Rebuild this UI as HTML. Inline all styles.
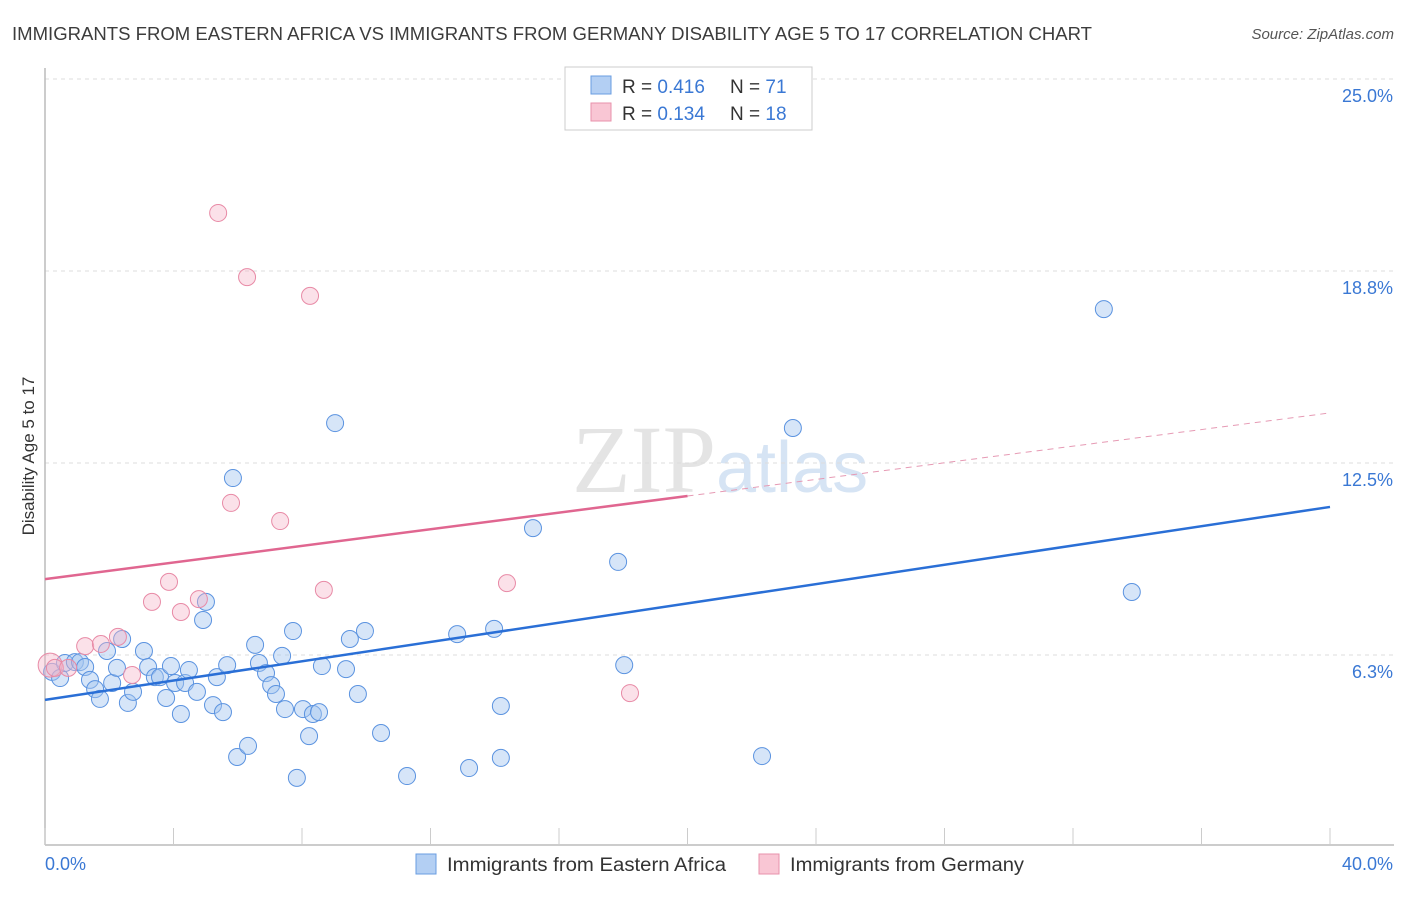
<!DOCTYPE html>
<html><head><meta charset="utf-8"><style>
body{margin:0;background:#fff;font-family:"Liberation Sans",sans-serif;}
</style></head><body>
<svg id="chart" width="1406" height="892" xmlns="http://www.w3.org/2000/svg" font-family="Liberation Sans, sans-serif">
<text x="12" y="40" font-size="18" fill="#3c3c3c" textLength="1080" lengthAdjust="spacingAndGlyphs">IMMIGRANTS FROM EASTERN AFRICA VS IMMIGRANTS FROM GERMANY DISABILITY AGE 5 TO 17 CORRELATION CHART</text>
<text x="1394" y="39" font-size="15" fill="#555" text-anchor="end" font-style="italic">Source: ZipAtlas.com</text>
<text x="716" y="492" font-size="96" fill="#e4e4e4" text-anchor="end" font-family="Liberation Serif, serif">ZIP</text>
<text x="716" y="492" font-size="72" fill="#d6e4f4">atlas</text>
<g id="grid"></g>
<g id="axes"></g>
<g id="marks"></g>
<text transform="translate(34,456) rotate(-90)" font-size="17" fill="#333" text-anchor="middle">Disability Age 5 to 17</text>
<g>
<rect x="565" y="67" width="247" height="63" fill="#fff" stroke="#ccc"/>
<rect x="591" y="76" width="20" height="18" fill="#b3cff3" stroke="#6a9de0"/>
<text x="622" y="93" font-size="19" fill="#333">R = <tspan fill="#3a78d4">0.416</tspan></text>
<text x="730" y="93" font-size="19" fill="#333">N = <tspan fill="#3a78d4">71</tspan></text>
<rect x="591" y="103" width="20" height="18" fill="#f9c6d4" stroke="#e892ab"/>
<text x="622" y="120" font-size="19" fill="#333">R = <tspan fill="#3a78d4">0.134</tspan></text>
<text x="730" y="120" font-size="19" fill="#333">N = <tspan fill="#3a78d4">18</tspan></text>
</g>
<g>
<rect x="416" y="854" width="20" height="20" fill="#b3cff3" stroke="#6a9de0"/>
<text x="447" y="871" font-size="19" fill="#333" textLength="279" lengthAdjust="spacingAndGlyphs">Immigrants from Eastern Africa</text>
<rect x="759" y="854" width="20" height="20" fill="#f9c6d4" stroke="#e892ab"/>
<text x="790" y="871" font-size="19" fill="#333" textLength="234" lengthAdjust="spacingAndGlyphs">Immigrants from Germany</text>
</g>
</svg>
<script>
const yTicks=[6.25,12.5,18.75,25];
const yTickLabels=["6.3%","12.5%","18.8%","25.0%"];
const xTickVals=[0,4,8,12,16,20,24,28,32,36,40];
const blueX=[0.22,0.47,0.62,0.93,1.09,1.25,1.40,1.56,1.71,1.93,2.09,2.24,2.40,2.58,2.74,3.08,3.21,3.42,3.58,3.77,3.92,4.05,4.23,4.36,4.48,4.73,4.92,5.01,5.23,5.35,5.54,5.67,5.85,5.98,6.32,6.54,6.66,6.88,7.04,7.19,7.38,7.47,7.72,7.84,8.03,8.22,8.34,8.53,8.62,9.03,9.37,9.49,9.74,9.96,10.46,11.27,12.83,13.20,13.98,14.19,14.19,15.19,17.84,18.03,22.32,23.28,32.96,33.83];
const blueY=[5.70,5.50,5.99,6.02,6.02,5.86,5.44,5.14,4.82,6.38,5.34,5.83,6.77,4.69,5.05,6.38,5.86,5.53,5.53,4.85,5.89,5.34,4.33,5.34,5.76,5.05,7.39,7.98,4.62,5.53,4.39,5.92,12.01,2.93,3.29,6.58,5.99,5.66,5.27,4.98,6.22,4.49,7.03,2.25,4.49,3.61,4.33,4.39,5.89,13.80,5.79,6.77,4.98,7.03,3.71,2.31,6.93,2.57,7.10,4.59,2.90,10.38,9.28,5.92,2.96,13.64,17.51,8.30];
const pinkX=[0.16,0.31,0.72,1.25,1.74,2.27,2.71,3.33,3.86,4.23,4.79,5.39,5.79,6.29,7.32,8.25,8.68,14.38,18.21];
const pinkY=[5.92,5.83,5.83,6.54,6.61,6.84,5.60,7.98,8.63,7.65,8.07,20.64,11.20,18.55,10.61,17.94,8.37,8.59,5.01];
const pinkR=[12,8.5,8.5,8.5,8.5,8.5,8.5,8.5,8.5,8.5,8.5,8.5,8.5,8.5,8.5,8.5,8.5,8.5,8.5];
const blueTrend=[4.79,11.07];
const pinkTrend=[8.72,14.13];
const pinkSolidEnd=20;
const NS="http://www.w3.org/2000/svg";
const X=v=>45+v*32.125, Y=v=>655-(v-6.25)*30.72;
function mk(t,a,p){const e=document.createElementNS(NS,t);for(const k in a)e.setAttribute(k,a[k]);p.appendChild(e);return e;}
const grid=document.getElementById('grid'),axes=document.getElementById('axes'),marks=document.getElementById('marks');
yTicks.forEach((t,i)=>{
 const l=mk('line',{x1:45,x2:1394,y1:Y(t),y2:Y(t),stroke:'#ddd','stroke-dasharray':'4,4'},grid);
 
 
 const tx=mk('text',{x:1393,y:Y(t)+23,'font-size':18,fill:'#3a78d4','text-anchor':'end'},axes);
 tx.textContent=yTickLabels[i];
 
 
});
const ax=mk('line',{x1:45,x2:1394,y1:845,y2:845,stroke:'#bbb','stroke-width':1.5},axes);


const ay=mk('line',{x1:45,x2:45,y1:68,y2:845,stroke:'#bbb','stroke-width':1.5},axes);


xTickVals.forEach(v=>{const t=mk('line',{x1:X(v),x2:X(v),y1:828,y2:845,stroke:'#ccc'},axes);
 
 });
const xl0=mk('text',{x:45,y:870,'font-size':18,fill:'#3a78d4'},axes);xl0.textContent='0.0%';


const xl1=mk('text',{x:1393,y:870,'font-size':18,fill:'#3a78d4','text-anchor':'end'},axes);xl1.textContent='40.0%';


blueX.forEach((x,i)=>{const c=mk('circle',{cx:X(x),cy:Y(blueY[i]),r:8.5,fill:'rgba(165,198,240,0.45)',stroke:'#5b93e0','stroke-width':1},marks);
 
 });
pinkX.forEach((x,i)=>{const c=mk('circle',{cx:X(x),cy:Y(pinkY[i]),r:pinkR[i],fill:'rgba(245,180,200,0.4)',stroke:'#e88aa6','stroke-width':1},marks);
 
 });
const bt=mk('line',{x1:X(0),y1:Y(blueTrend[0]),x2:X(40),y2:Y(blueTrend[1]),stroke:'#2a6fd6','stroke-width':2.5},marks);


const pm=pinkTrend[0]+(pinkTrend[1]-pinkTrend[0])*pinkSolidEnd/40;
const pt=mk('line',{x1:X(0),y1:Y(pinkTrend[0]),x2:X(pinkSolidEnd),y2:Y(pm),stroke:'#e06690','stroke-width':2.5},marks);


const pd=mk('line',{x1:X(pinkSolidEnd),y1:Y(pm),x2:X(40),y2:Y(pinkTrend[1]),stroke:'#e69ab4','stroke-width':1,'stroke-dasharray':'6,5'},marks);


</script>
</body></html>
